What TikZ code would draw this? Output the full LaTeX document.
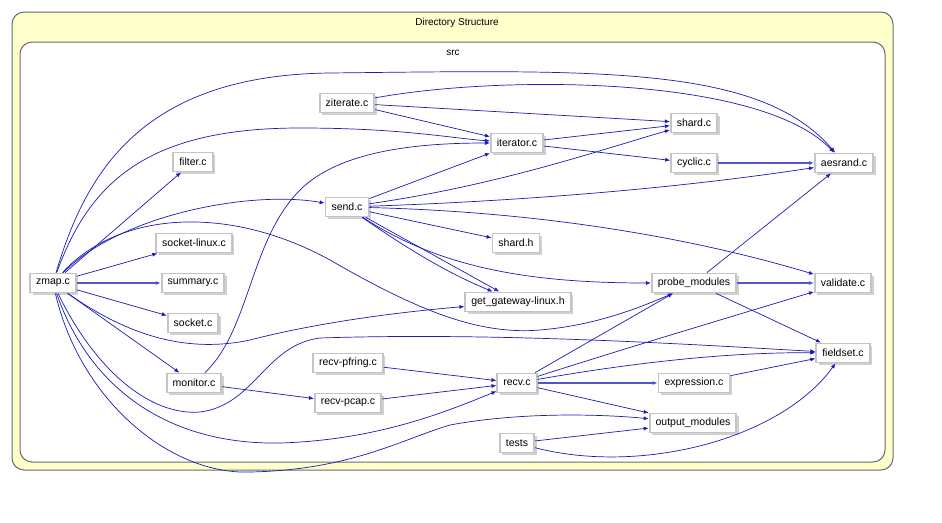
\documentclass[tikz,border=0pt]{standalone}
\usepackage{fontspec}
\setmainfont{Liberation Sans}
\usepackage{xcolor}
\usetikzlibrary{arrows.meta,shadows}

\definecolor{edgeblue}{HTML}{1A1AB8}
\definecolor{clusterfill}{HTML}{FFFFCC}
\definecolor{clusterline}{HTML}{6B6B6B}
\definecolor{boxline}{HTML}{C4C4C4}

\begin{document}
\begin{tikzpicture}[
	x=1pt, y=-1pt,
	srcfile/.style={
		rectangle,
		draw=boxline,
		line width=1.8pt,
		fill=white,
		general shadow={shadow xshift=2.5pt, shadow yshift=-2.5pt, fill=boxline!80},
		minimum height=19pt,
		inner xsep=6pt,
		font=\fontsize{10.5}{12}\selectfont
	},
	cluster/.style={
		rounded corners=12pt,
		draw=clusterline,
		line width=1pt
	},
	title/.style={
		font=\fontsize{10}{12}\selectfont
	},
	dep/.style={
		-{Latex[length=5pt,width=4pt]},
		edgeblue,
		line width=0.7pt
	},
	depthick/.style={
		dep,
		draw=edgeblue!75!white,
		line width=1.3pt
	}
	]
	\useasboundingbox (0,0) rectangle (942,522);
	% clusters
	\draw[cluster, fill=clusterfill] (12,12) rectangle (893,470);
	\draw[cluster, fill=white] (20,42) rectangle (885,462);
	\node[title] (dirtitle) at (457,23) {Directory Structure};
	\node[title] (srctitle) at (453,53) {src};
	% files
	\node[srcfile] (zmap) at (53,283) {zmap.c};
	\node[srcfile] (filter) at (193,162) {filter.c};
	\node[srcfile] (socklinux) at (194,243) {socket-linux.c};
	\node[srcfile] (summary) at (193,283) {summary.c};
	\node[srcfile] (socket) at (193,323) {socket.c};
	\node[srcfile] (monitor) at (194,383) {monitor.c};
	\node[srcfile] (ziterate) at (347,103) {ziterate.c};
	\node[srcfile] (send) at (347,207) {send.c};
	\node[srcfile] (recvpfring) at (348,363) {recv-pfring.c};
	\node[srcfile] (recvpcap) at (348,403) {recv-pcap.c};
	\node[srcfile] (iterator) at (517,143) {iterator.c};
	\node[srcfile] (shardh) at (516,243) {shard.h};
	\node[srcfile] (gateway) at (518,302) {get\_gateway-linux.h};
	\node[srcfile] (recv) at (517,383) {recv.c};
	\node[srcfile] (tests) at (517,443) {tests};
	\node[srcfile] (shardc) at (694,123) {shard.c};
	\node[srcfile] (cyclic) at (694,163) {cyclic.c};
	\node[srcfile] (probe) at (694,283) {probe\_modules};
	\node[srcfile] (expression) at (694,383) {expression.c};
	\node[srcfile] (output) at (693,423) {output\_modules};
	\node[srcfile] (aesrand) at (844,163) {aesrand.c};
	\node[srcfile] (validate) at (843,283) {validate.c};
	\node[srcfile] (fieldset) at (843,353) {fieldset.c};
	% zmap.c
	\draw[dep] (zmap) -- (filter);
	\draw[dep] (zmap) -- (socklinux);
	\draw[depthick] (zmap) -- (summary);
	\draw[dep] (zmap) -- (socket);
	\draw[dep] (zmap) -- (monitor);
	\draw[dep] (zmap) .. controls (120,215) and (250,190) .. (send);
	\draw[dep] (zmap) .. controls (85,175) and (140,75) .. (330,73)
		.. controls (600,70) and (760,65) .. (aesrand);
	\draw[dep] (zmap) .. controls (90,180) and (150,128) .. (300,128)
		.. controls (400,128) and (450,138) .. (iterator);
	\draw[dep] (zmap) .. controls (120,210) and (230,205) .. (330,260)
		.. controls (420,312) and (480,335) .. (540,330)
		.. controls (600,325) and (645,305) .. ([xshift=-21pt]probe.south);
	\draw[dep] (zmap) .. controls (120,330) and (180,355) .. (250,340)
		.. controls (320,322) and (400,312) .. (gateway);
	\draw[dep] (zmap) .. controls (95,370) and (150,416) .. (200,412)
		.. controls (255,405) and (265,345) .. (320,338)
		.. controls (500,332) and (700,345) .. (fieldset);
	\draw[dep] (zmap) .. controls (90,390) and (170,445) .. (280,443)
		.. controls (380,440) and (450,410) .. (recv);
	\draw[dep] (zmap) .. controls (80,400) and (170,475) .. (250,472)
		.. controls (350,470) and (400,440) .. (450,425)
		.. controls (520,412) and (600,414) .. (output);
	% monitor.c
	\draw[dep] (monitor) .. controls (250,330) and (250,240) .. (300,190)
		.. controls (340,150) and (420,143) .. (iterator);
	\draw[dep] (monitor) -- (recvpcap);
	% ziterate.c
	\draw[dep] (ziterate) .. controls (500,75) and (760,75) .. (aesrand);
	\draw[dep] (ziterate) -- (shardc);
	\draw[dep] (ziterate) -- (iterator);
	% send.c
	\draw[dep] (send) -- (iterator);
	\draw[dep] (send) .. controls (500,185) and (600,150) .. (shardc);
	\draw[dep] (send) .. controls (550,200) and (700,185) .. (aesrand);
	\draw[dep] (send) .. controls (550,212) and (700,240) .. (validate);
	\draw[dep] (send) -- (shardh);
	\draw[dep] (send) -- (gateway);
	\draw[dep] (send) .. controls (395,240) and (440,270) .. (gateway);
	\draw[dep] (send) .. controls (440,268) and (530,283) .. (probe);
	% iterator.c and cyclic.c
	\draw[dep] (iterator) -- (shardc);
	\draw[dep] (iterator) -- (cyclic);
	\draw[depthick] (cyclic) -- (aesrand);
	% recv
	\draw[dep] (recvpfring) -- (recv);
	\draw[dep] (recvpcap) -- (recv);
	\draw[dep] (recv) -- ([xshift=-21pt]probe.south);
	\draw[dep] (recv) .. controls (620,350) and (720,320) .. (validate);
	\draw[dep] (recv) .. controls (620,365) and (720,352) .. (fieldset);
	\draw[depthick] (recv) -- (expression);
	\draw[dep] (recv) -- (output);
	\draw[dep] (expression) -- (fieldset);
	% probe_modules
	\draw[dep] (probe) -- (aesrand);
	\draw[depthick] (probe) -- (validate);
	\draw[dep] (probe) -- (fieldset);
	% tests
	\draw[dep] (tests) -- (output);
	\draw[dep] (tests) .. controls (640,475) and (780,440) .. (fieldset);
\end{tikzpicture}
\end{document}
